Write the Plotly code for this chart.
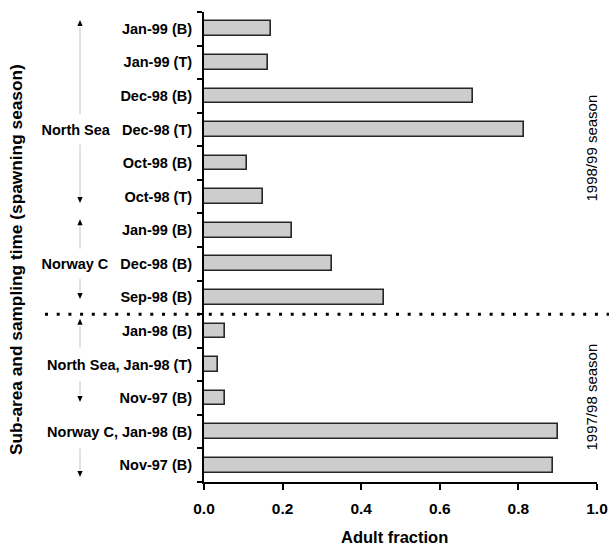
import plotly.graph_objects as go

# ---------------- data ----------------
row_labels = [
    "Jan-99 (B)",
    "Jan-99 (T)",
    "Dec-98 (B)",
    "North Sea\u00a0\u00a0\u00a0Dec-98 (T)",
    "Oct-98 (B)",
    "Oct-98 (T)",
    "Jan-99 (B)",
    "Norway C\u00a0\u00a0\u00a0Dec-98 (B)",
    "Sep-98 (B)",
    "Jan-98 (B)",
    "North Sea, Jan-98 (T)",
    "Nov-97 (B)",
    "Norway C, Jan-98 (B)",
    "Nov-97 (B)",
]
adult_fraction = [0.170, 0.163, 0.684, 0.813, 0.110, 0.151, 0.224, 0.326, 0.458,
                  0.053, 0.036, 0.053, 0.902, 0.888]
season_labels = ["1998/99 season", "1997/98 season"]
x_tick_vals = [0.0, 0.2, 0.4, 0.6, 0.8, 1.0]
x_tick_text = ["0.0", "0.2", "0.4", "0.6", "0.8", "1.0"]
x_title = "Adult fraction"
y_title = "Sub-area and sampling time (spawning season)"

# ---------------- layout constants ----------------
W, H = 609, 548
ML, MR, MT, MB = 204, 12, 12, 66
PW, PH = W - ML - MR, H - MT - MB
n = len(row_labels)
rows = list(range(n))
FONT = "Liberation Sans, Arial, Helvetica, sans-serif"


def px_x(px):
    return (px - ML) / PW


def px_y(px):
    return (H - MB - px) / PH


def row_y(r):
    # paper y of a (fractional) row position on the reversed category axis
    return 1 - (r + 0.5) / n


fig = go.Figure(
    go.Bar(
        x=adult_fraction,
        y=rows,
        orientation="h",
        width=0.44,
        marker=dict(color="#cdcdcd", line=dict(color="#262626", width=1.6)),
        showlegend=False,
        hovertemplate="%{x:.3f}<extra></extra>",
    )
)

shapes = []
# dotted separator between the two spawning seasons
sep_row = 8.5
shapes.append(dict(type="line", xref="paper", yref="paper",
                   x0=px_x(45), x1=px_x(609), y0=row_y(sep_row), y1=row_y(sep_row),
                   line=dict(color="black", width=3, dash="3px,8.7px")))

# faint group brackets with arrowheads
arrow_x = px_x(80)
segments = [(-0.05, 2.55), (3.45, 5.0), (5.85, 6.55), (7.45, 7.85),
            (8.85, 9.5), (10.5, 10.9), (12.5, 13.15)]
for a, b in segments:
    shapes.append(dict(type="line", xref="paper", yref="paper",
                       x0=arrow_x, x1=arrow_x, y0=row_y(a), y1=row_y(b),
                       line=dict(color="#c4c4c4", width=1)))
up_heads = [-0.17, 5.76, 8.73]
down_heads = [5.1, 7.96, 11.03, 13.26]
hw, hh = 2.6 / PW, 3.0 / PH
for r in up_heads:
    y = row_y(r)
    shapes.append(dict(type="path", xref="paper", yref="paper",
                       path=f"M {arrow_x-hw},{y-hh} L {arrow_x+hw},{y-hh} L {arrow_x},{y+hh} Z",
                       fillcolor="black", line=dict(width=0)))
for r in down_heads:
    y = row_y(r)
    shapes.append(dict(type="path", xref="paper", yref="paper",
                       path=f"M {arrow_x-hw},{y+hh} L {arrow_x+hw},{y+hh} L {arrow_x},{y-hh} Z",
                       fillcolor="black", line=dict(width=0)))

annotations = [
    dict(text=season_labels[0], xref="paper", yref="paper", x=px_x(591), y=px_y(148.5),
         textangle=-90, showarrow=False, xanchor="center", yanchor="middle",
         font=dict(family=FONT, size=15, color="black")),
    dict(text=season_labels[1], xref="paper", yref="paper", x=px_x(591), y=px_y(397.5),
         textangle=-90, showarrow=False, xanchor="center", yanchor="middle",
         font=dict(family=FONT, size=15, color="black")),
    dict(text=y_title, xref="paper", yref="paper", x=px_x(16), y=px_y(260),
         textangle=-90, showarrow=False, xanchor="center", yanchor="middle",
         font=dict(family=FONT, size=17.3, color="black", weight="bold")),
    dict(text=x_title, xref="paper", yref="paper", x=px_x(394), y=px_y(537),
         showarrow=False, xanchor="center", yanchor="middle",
         font=dict(family=FONT, size=16.5, color="black", weight="bold")),
]

fig.update_layout(
    template="none",
    width=W, height=H,
    margin=dict(l=ML, r=MR, t=MT, b=MB, pad=0, autoexpand=False),
    paper_bgcolor="white", plot_bgcolor="white",
    font=dict(family=FONT, color="black"),
    bargap=0,
    shapes=shapes,
    annotations=annotations,
    xaxis=dict(
        range=[0, 1], tickvals=x_tick_vals, ticktext=x_tick_text,
        automargin=False,
        ticks="outside", ticklen=6, tickwidth=2, tickcolor="black",
        showline=True, linewidth=2, linecolor="black",
        showgrid=False, zeroline=False, fixedrange=True,
        tickfont=dict(family=FONT, size=15.5, color="black", weight="bold"),
        ticklabelstandoff=5,
    ),
    yaxis=dict(
        range=[n - 0.5, -0.5], tickvals=rows, ticktext=row_labels,
        automargin=False,
        ticks="", showline=True, linewidth=2, linecolor="black",
        showgrid=False, zeroline=False, fixedrange=True,
        tickfont=dict(family=FONT, size=14.5, color="black", weight="bold"),
        ticklabelstandoff=7,
        minor=dict(tickvals=[i - 0.5 for i in range(n + 1)], ticks="outside",
                   ticklen=5, tickwidth=1.5, tickcolor="black", showgrid=False),
    ),
)

fig.write_html(
    "out.html",
    config={"displayModeBar": False},
    post_script="document.body.style.margin='0';document.body.style.overflow='hidden';",
)
